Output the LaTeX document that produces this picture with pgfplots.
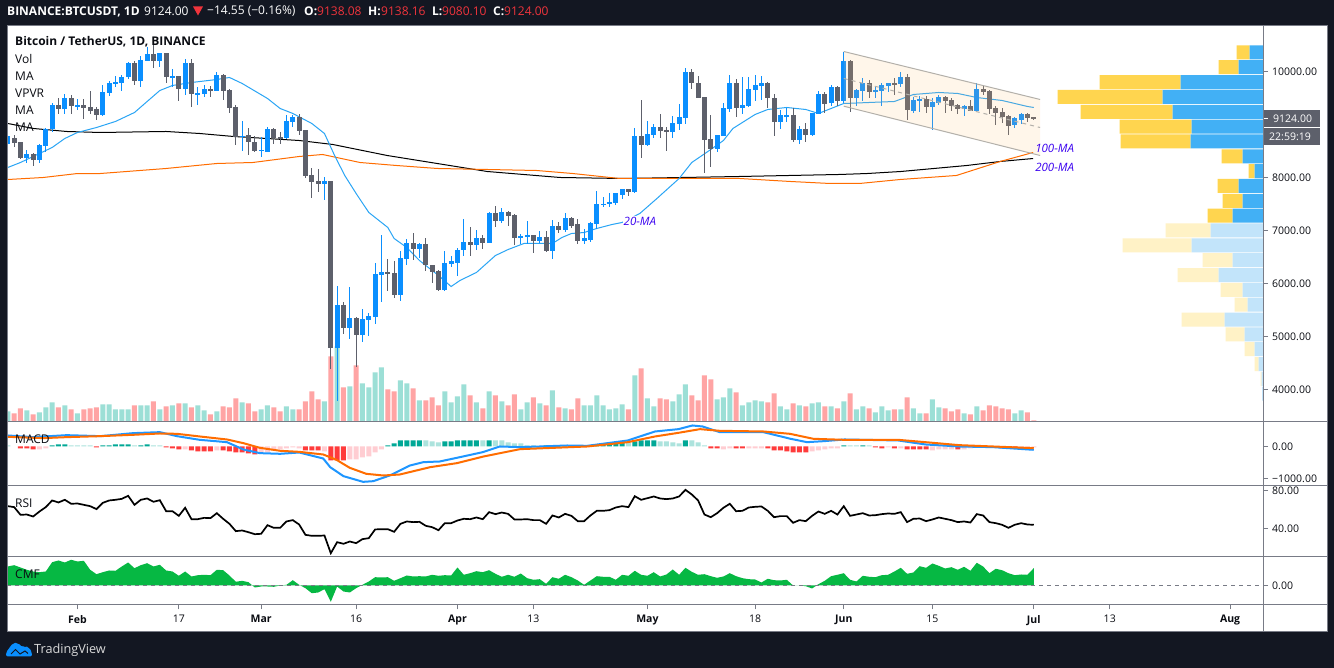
\documentclass[border=0pt]{standalone}
\usepackage{fontspec}
\usepackage{pgfplots}
\usepackage{pgfplotstable}
\pgfplotsset{compat=1.18}
\setmainfont{Open Sans}

\definecolor{cBg}{HTML}{131722}
\definecolor{cAxis}{HTML}{787B86}
\definecolor{cText}{HTML}{0A0C12}
\definecolor{cUp}{HTML}{0A8FFF}
\definecolor{cDn}{HTML}{5D606B}
\definecolor{cVolUp}{HTML}{9CDFD6}
\definecolor{cVolDn}{HTML}{FFA4A4}
\definecolor{cMa}{HTML}{2AA5F5}
\definecolor{cOr}{HTML}{FF6D00}
\definecolor{cMacd}{HTML}{1E96FF}
\definecolor{cTeal}{HTML}{00A896}
\definecolor{cLtTeal}{HTML}{ACE3DD}
\definecolor{cRed}{HTML}{FF3B3B}
\definecolor{cPink}{HTML}{FFCDD2}
\definecolor{cCmf}{HTML}{06B843}
\definecolor{cYel}{HTML}{FFD54F}
\definecolor{cBlu}{HTML}{42B0F5}
\definecolor{cYelL}{HTML}{FFF2C6}
\definecolor{cBluL}{HTML}{C2E4FA}
\definecolor{cLabel}{HTML}{3A00F0}
\definecolor{cChan}{HTML}{FFC373}
\definecolor{cChanLine}{HTML}{B3B0AA}
\definecolor{cRedTxt}{HTML}{F0343C}

% day number (1 = 1 Jan 2020), open, high, low, close
\pgfplotstableread{
d o h l c
21 8623 8792 8604 8774
24 8377 8528 8264 8434
26 8321 8623 8264 8604
27 8585 8943 8472 8906
28 8906 9396 8849 9377
30 9283 9566 9189 9509
32 9321 9472 9264 9377
36 9170 9736 9151 9604
37 9585 9830 9547 9774
38 9755 9906 9698 9811
39 9792 9943 9641 9887
40 9887 10170 9849 10151
42 9830 10283 9698 10226
43 10207 10453 10189 10321
45 10207 10358 10094 10340
47 9887 10038 9698 9906
49 9679 10245 9547 10151
51 9566 9698 9377 9585
52 9566 9736 9528 9679
54 9623 9981 9623 9925
58 8755 9075 8509 8792
61 8509 8755 8396 8528
62 8490 8962 8472 8906
65 8736 9170 8717 9057
66 9038 9170 8962 9132
71 7868 8000 7566 7925
73 4792 5962 3774 5585
75 5151 5943 4962 5358
77 5019 5528 4905 5321
78 5302 5434 5000 5396
79 5377 6396 5245 6170
80 6151 6906 5660 6208
83 5792 6604 5679 6472
84 6453 6830 6358 6755
86 6660 6773 6490 6736
90 5868 6604 5849 6396
91 6377 6528 6302 6415
92 6396 6679 6132 6641
93 6623 7208 6528 6792
95 6717 7000 6641 6849
97 6755 7358 6755 7321
99 7170 7415 7132 7358
102 6849 6943 6736 6887
103 6868 7170 6736 6906
105 6811 6981 6755 6868
107 6604 7189 6453 7094
109 7000 7321 6981 7245
112 6811 7019 6736 6849
113 6830 7151 6792 7132
114 7113 7736 7019 7491
115 7472 7623 7434 7509
116 7491 7698 7434 7547
117 7528 7698 7472 7698
118 7679 7792 7585 7774
120 7717 8943 7698 8774
122 8604 9057 8585 8830
123 8811 9000 8736 8962
126 8849 9151 8736 9019
127 9000 9396 8887 9132
128 9113 10057 9000 9981
133 8547 8811 8490 8811
134 8792 9396 8774 9302
135 9283 9943 9245 9792
137 9302 9887 9189 9377
138 9358 9887 9321 9679
139 9660 9943 9434 9736
140 9717 9906 9453 9774
143 9038 9264 8906 9170
144 9151 9302 9038 9170
146 8698 8981 8623 8906
148 8811 9226 8792 9208
149 9189 9623 9189 9566
151 9396 9736 9340 9698
153 9434 10377 9396 10189
155 9491 9679 9340 9660
156 9641 9868 9434 9792
158 9604 9717 9491 9660
159 9641 9774 9358 9736
160 9717 9792 9604 9774
162 9755 9981 9698 9887
164 9264 9528 9208 9453
165 9434 9547 9245 9472
167 9321 9491 8887 9415
168 9396 9547 9377 9528
172 9283 9377 9151 9358
174 9264 9774 9264 9679
180 8981 9132 8925 9113
181 9094 9226 9000 9189
}\candlesUp

\pgfplotstableread{
d o h l c
22 8736 8811 8566 8660
23 8679 8679 8358 8377
25 8434 8453 8226 8321
29 9377 9491 9189 9283
31 9509 9547 9189 9340
33 9377 9472 9113 9302
34 9321 9623 9189 9264
35 9283 9321 9094 9170
41 10151 10189 9736 9830
44 10321 10491 10057 10207
46 10340 10340 9774 9887
48 9906 9906 9434 9679
50 10151 10245 9321 9566
53 9679 9717 9528 9623
55 9925 9962 9453 9641
56 9660 9679 9226 9302
57 9321 9377 8604 8755
59 8811 8925 8415 8679
60 8679 8792 8490 8509
63 8906 8925 8623 8736
64 8755 8849 8641 8736
67 9132 9189 8811 8868
68 8887 8887 7981 8019
69 8038 8170 7604 7906
70 7925 8151 7717 7868
72 7925 7925 4396 4792
74 5585 5642 5038 5151
76 5358 5377 4415 5019
81 6208 6453 5849 6170
82 6189 6415 5717 5792
85 6755 6962 6434 6660
87 6736 6849 6245 6340
88 6358 6358 6000 6226
89 6245 6264 5849 5868
94 6792 7057 6528 6717
96 6849 6906 6660 6755
98 7321 7453 7057 7170
100 7358 7377 7094 7264
101 7283 7302 6717 6849
104 6906 6906 6566 6811
106 6868 6981 6585 6604
108 7094 7151 6962 7000
110 7245 7264 7038 7094
111 7113 7226 6736 6811
119 7774 7774 7642 7717
121 8774 9453 8377 8604
124 8962 9189 8736 8868
125 8887 8962 8509 8849
129 9981 10038 9679 9774
130 9792 9906 9491 9509
131 9528 9528 8094 8698
132 8717 9170 8189 8547
136 9792 9849 9132 9302
141 9774 9811 9302 9491
142 9509 9566 8792 9038
145 9170 9302 8679 8698
147 8906 9019 8679 8811
150 9566 9604 9226 9396
152 9698 9717 9358 9434
154 10189 10226 9245 9491
157 9792 9830 9509 9604
161 9774 9868 9547 9755
163 9887 9962 9094 9264
166 9472 9547 9226 9321
169 9528 9547 9208 9434
170 9453 9491 9264 9358
171 9377 9396 9189 9283
173 9358 9453 9264 9264
175 9679 9717 9547 9604
176 9623 9660 9189 9283
177 9302 9340 8981 9226
178 9245 9302 9019 9132
179 9151 9170 8811 8981
182 9189 9208 9038 9113
183 9138 9138 9080 9124
}\candlesDn

\pgfplotstableread{
d v
21 10
24 11
26 9
27 14
28 19
30 16
32 8
36 17
37 17
38 12
39 12
40 12
42 16
43 16
45 12
47 16
49 18
51 16
52 11
54 10
58 19
61 12
62 16
65 15
66 12
71 20
73 75
75 35
77 38
78 34
79 49
80 54
83 41
84 38
86 21
90 30
91 19
92 25
93 37
95 19
97 30
99 20
102 12
103 19
105 18
107 31
109 13
112 16
113 16
114 26
115 16
116 12
117 13
118 17
120 46
122 23
123 15
126 20
127 27
128 37
133 22
134 24
135 33
137 16
138 19
139 21
140 20
143 15
144 12
146 16
148 18
149 19
151 15
153 20
155 12
156 15
158 9
159 15
160 11
162 12
164 13
165 8
167 22
168 14
172 8
174 15
180 8
181 11
}\volUp

\pgfplotstableread{
d v
22 8
23 13
25 7
29 14
31 12
33 12
34 13
35 14
41 16
44 20
46 15
48 18
50 14
53 7
55 15
56 14
57 23
59 18
60 10
63 14
64 10
67 12
68 20
69 30
70 22
72 65
74 34
76 56
81 32
82 30
85 33
87 21
88 24
89 16
94 26
96 13
98 26
100 16
101 27
104 24
106 16
108 14
110 12
111 23
119 12
121 53
124 23
125 22
129 26
130 21
131 46
132 42
136 29
141 19
142 28
145 18
147 15
150 15
152 13
154 28
157 13
161 12
163 24
166 8
169 13
170 10
171 12
173 7
175 11
176 16
177 15
178 13
179 12
182 9
183 1
}\volDn

% volume profile: price, blue and yellow part of the strong and the faded rows
\pgfplotstableread{
p bs ys bl yl
10360 13.3 13 0 0
10080 24.3 20 0 0
9800 82.3 81 0 0
9520 100.3 105 0 0
9240 90.3 92 0 0
8960 71.3 72 0 0
8680 72.3 70 0 0
8400 20.3 21 0 0
8120 8.3 6 0 0
7840 24.3 21 0 0
7560 20.3 20 0 0
7280 30.3 25 0 0
7000 0 0 52.3 45
6720 0 0 71.3 69
6440 0 0 30.3 30
6160 0 0 44.3 41
5880 0 0 20.3 22
5600 0 0 15.3 13
5320 0 0 38.3 43
5040 0 0 18.3 19
4760 0 0 8.3 10
4480 0 0 4.3 4
4200 0 0 1.3 1
3920 0 0 1 0
}\vpvr

\pgfplotstableread{
d v
21 63.5
22 62.5
23 54.4
24 54.7
25 52.6
26 57.9
27 62.5
28 69.5
29 67.4
30 70.2
31 66
32 66.3
33 64.9
34 63.5
35 60.4
36 67
37 69.5
38 70.2
39 71.2
40 74.4
41 64.9
42 70.2
43 71.6
44 68.1
45 69.8
46 58.2
47 58.2
48 53.3
49 61.8
50 49.8
51 49.8
52 51.2
53 50.9
54 56.1
55 50.2
56 44.9
57 37.2
58 37.9
59 36.1
60 34
61 34.4
62 43.5
63 40.7
64 40.7
65 47.4
66 48.8
67 44.2
68 33.3
69 32.3
70 32.3
71 32.6
72 14
73 25.6
74 23.9
75 26.3
76 24.6
77 28.8
78 29.8
79 39
80 39.3
81 39.3
82 36.5
83 44.9
84 47.4
85 46.7
86 47
87 42.8
88 41.4
89 38.2
90 45.6
91 45.6
92 48.4
93 50.2
94 49.8
95 51.6
96 49.8
97 57.2
98 55.1
99 56.8
100 55.4
101 49.5
102 49.5
103 49.8
104 48.8
105 48.8
106 44.9
107 53.7
108 51.6
109 55.4
110 53.3
111 47.7
112 47.7
113 53.7
114 58.6
115 58.6
116 59.3
117 62.1
118 63.5
119 62.5
120 74
121 70.2
122 71.9
123 73.7
124 71.6
125 70.9
126 71.6
127 73.7
128 80.7
129 75.8
130 69.5
131 54.7
132 51.9
133 56.1
134 61.8
135 66
136 58.2
137 58.6
138 62.1
139 62.8
140 63.2
141 58.6
142 51.9
143 53
144 53
145 46
146 48.8
147 47.7
148 53.3
149 57.9
150 55.4
151 58.6
152 54.7
153 63.5
154 53.3
155 54.7
156 56.1
157 53.7
158 54
159 55.1
160 55.8
161 55.4
162 57.2
163 46.7
164 50.2
165 50.5
166 47.7
167 49.5
168 51.6
169 50.2
170 48.8
171 46.7
172 47.4
173 46.3
174 55.1
175 53.7
176 46.7
177 45.6
178 43.9
179 40.7
180 43.9
181 45.6
182 44.2
183 43.9
}\rsi

\pgfplotstableread{
d v
21 .19
22 .203
23 .18
24 .157
25 .14
26 .133
27 .14
28 .233
29 .25
30 .23
31 .257
32 .24
33 .247
34 .157
35 .113
36 .133
37 .15
38 .147
39 .19
40 .23
41 .173
42 .203
43 .223
44 .19
45 .207
46 .15
47 .14
48 .097
49 .14
50 .09
51 .103
52 .107
53 .103
54 .157
55 .153
56 .1
57 .037
58 .047
59 .033
60 -.02
61 -.01
62 -.01
63 -.013
64 0
65 .007
66 .053
67 .007
68 -.027
69 -.077
70 -.07
71 -.037
72 -.163
73 -.01
74 -.06
75 -.07
76 -.027
77 .007
78 .04
79 .083
80 .08
81 .083
82 .047
83 .073
84 .1
85 .09
86 .093
87 .09
88 .107
89 .097
90 .103
91 .1
92 .18
93 .107
94 .123
95 .143
96 .133
97 .153
98 .117
99 .087
100 .107
101 .087
102 .12
103 .073
104 .057
105 .063
106 .017
107 .083
108 .067
109 .107
110 .083
111 .05
112 .007
113 .05
114 .093
115 .087
116 .087
117 .057
118 .107
119 .097
120 .147
121 .107
122 .097
123 .133
124 .09
125 .11
126 .16
127 .107
128 .177
129 .137
130 .107
131 .113
132 .093
133 .077
134 .09
135 .123
136 .093
137 .073
138 .063
139 .06
140 .03
141 .067
142 .053
143 .05
144 .057
145 0
146 0
147 -.007
148 -.03
149 .013
150 .047
151 .093
152 .107
153 .123
154 .057
155 .04
156 .097
157 .087
158 .083
159 .103
160 .107
161 .14
162 .177
163 .117
164 .13
165 .193
166 .177
167 .22
168 .197
169 .17
170 .183
171 .157
172 .187
173 .147
174 .227
175 .19
176 .123
177 .167
178 .153
179 .123
180 .103
181 .11
182 .107
183 .173
}\cmf

\newcommand{\ticksize}{\fontsize{10.5}{12}\selectfont}
\newcommand{\legsize}{\fontsize{12}{14}\selectfont}

\pgfplotsset{
  pane/.style={
    at={(7pt,#1)}, anchor=south west, scale only axis, width=1256pt,
    xmin=20.87, xmax=219.2, enlargelimits=false, clip=true,
    scaled ticks=false,
    axis line style={draw=cAxis,line width=1pt},
    tick style={draw=cAxis,line width=1pt},
    tick align=outside, major tick length=5pt,
    ytick pos=right, yticklabel pos=right, xtick=\empty,
    tick label style={font=\ticksize,text=cText},
    yticklabel style={inner sep=0pt,anchor=west,xshift=4pt},
  },
  wick/.style={draw=none,mark=none,forget plot,
    error bars/.cd,y dir=both,y explicit,error mark=none,
    error bar style={draw=#1,line width=1pt}},
  body/.style={draw=none,mark=none,forget plot,
    error bars/.cd,y dir=both,y explicit,error mark=none,
    error bar style={draw=#1,line width=5pt}},
  hbar/.style={ybar,bar width=5pt,bar shift=0pt,fill=#1,draw=none},
}

\begin{document}
\begin{tikzpicture}
\fill[cBg] (0,0) rectangle (1334pt,668pt);
\fill[white] (7pt,37pt) rectangle (1327pt,643pt);

% volume, behind the candles
\begin{axis}[pane=246.5pt,height=396pt,hide axis,ymin=0,ymax=396]
  \addplot[hbar=cVolUp] table[x=d,y=v] {\volUp};
  \addplot[hbar=cVolDn] table[x=d,y=v] {\volDn};
\end{axis}

% visible range volume profile, growing from the price scale to the left
\begin{axis}[pane=246.5pt,height=396pt,hide axis,xbar stacked,bar width=14pt,
    x dir=reverse,xmin=0,xmax=1256,ymin=3396.2,ymax=10867.9]
  \addplot[fill=cBlu,draw=none] table[x=bs,y=p] {\vpvr};
  \addplot[fill=cYel,draw=none] table[x=ys,y=p] {\vpvr};
  \addplot[fill=cBluL,draw=none] table[x=bl,y=p] {\vpvr};
  \addplot[fill=cYelL,draw=none] table[x=yl,y=p] {\vpvr};
\end{axis}

% price pane; the 9000 tick has no label, the last price box sits on it
\begin{axis}[pane=246.5pt,height=396pt,ymin=3396.2,ymax=10867.9,
    ytick={4000,5000,6000,7000,8000,10000},
    yticklabels={4000.00,5000.00,6000.00,7000.00,8000.00,10000.00},
    extra y ticks={9000},extra y tick labels={}]
  % moving averages
  \addplot[black,line width=1pt] coordinates {(21,9019)(25,8925)(30.3,8868)(35.6,8849)(46,8868)(51.3,8830)(56.6,8774)(61.9,8736)(67,8698)(72.3,8623)(80.9,8415)(88.8,8264)(96.7,8113)(108.2,8000)(118,7981)(127.6,8000)(136.6,8019)(152.4,8057)(156.7,8075)(162,8113)(172.4,8226)(177.7,8302)(182.9,8358)};
  \addplot[cOr,line width=1pt] coordinates {(21,7962)(26.6,8000)(32,8075)(35.6,8075)(46,8170)(54,8264)(59.7,8283)(67,8396)(70.7,8434)(76.6,8283)(82.4,8226)(88.8,8170)(96.7,8151)(104.5,8132)(110.2,8075)(117.6,7981)(126,7981)(136.6,7981)(144.5,7925)(150.8,7887)(155.5,7887)(161.9,7962)(170.8,8038)(177.7,8302)(182.9,8472)};
  \addplot[cMa,line width=1pt] coordinates {(21,8189)(23,8283)(26,8453)(28,8566)(30,8736)(32,8849)(35,8943)(38,9057)(41,9226)(43,9434)(45,9641)(47,9736)(50,9792)(54,9849)(56,9887)(58,9774)(62,9491)(64,9302)(66,9208)(69,9019)(71,8830)(72.6,8415)(74.2,8038)(76,7698)(78,7340)(81,7057)(82,6849)(84,6679)(86,6434)(89,6151)(91,5943)(92.4,6057)(95,6208)(98,6528)(100,6641)(102.5,6755)(107,6755)(108.5,6868)(110,6943)(112,6962)(114,7038)(116.4,7113)(118,7151)(120.8,7321)(123.5,7604)(127,7981)(129,8283)(132,8528)(134,8698)(135.5,8925)(139,9189)(141,9283)(144,9321)(147,9283)(149,9208)(151,9302)(153,9396)(157,9415)(161,9434)(164,9566)(168,9604)(171,9585)(174,9509)(178,9453)(182,9340)(183,9321)};
  % candles
  \addplot[wick=cUp] table[x=d,y expr={(\thisrow{h}+\thisrow{l})/2},y error expr={(\thisrow{h}-\thisrow{l})/2}] {\candlesUp};
  \addplot[wick=cDn] table[x=d,y expr={(\thisrow{h}+\thisrow{l})/2},y error expr={(\thisrow{h}-\thisrow{l})/2}] {\candlesDn};
  \addplot[body=cUp] table[x=d,y expr={(\thisrow{o}+\thisrow{c})/2},y error expr={(\thisrow{c}-\thisrow{o})/2}] {\candlesUp};
  \addplot[body=cDn] table[x=d,y expr={(\thisrow{o}+\thisrow{c})/2},y error expr={(\thisrow{o}-\thisrow{c})/2}] {\candlesDn};
  % parallel channel
  \addplot[fill=cChan,fill opacity=.15,draw=none] coordinates {(153,10377)(184,9472)(184,8415)(153,9345)} -- cycle;
  \addplot[cChanLine,line width=1pt] coordinates {(153,10377)(184,9472)};
  \addplot[cChanLine,line width=1pt] coordinates {(153,9345)(184,8415)};
  \addplot[cChanLine,line width=1pt,dash pattern=on 4pt off 4pt] coordinates {(153,9868)(184,8943)};
  \node[fill=white,inner sep=1pt,text=cLabel,font=\fontsize{11.5}{13}\selectfont\itshape] at (axis cs:120.8,7170) {20-MA};
  \node[text=cLabel,inner sep=0pt,font=\fontsize{11.5}{13}\selectfont\itshape] at (axis cs:186.3,8547) {100-MA};
  \node[text=cLabel,inner sep=0pt,font=\fontsize{11.5}{13}\selectfont\itshape] at (axis cs:186.3,8189) {200-MA};
\end{axis}

% MACD
\begin{axis}[pane=182.5pt,height=64pt,ymin=-1219,ymax=781,
    ytick={-1000,0},yticklabels={−1000.00,0.00}]
  \addplot[hbar=cTeal] coordinates {(28,31)(29,63)(30,63)(36,31)(37,31)(38,63)(39,63)(40,63)(42,31)(43,63)(81,31)(82,94)(83,188)(84,188)(85,188)(86,188)(90,156)(91,156)(92,188)(93,188)(94,188)(95,188)(97,188)(106,31)(107,31)(108,31)(109,31)(112,31)(113,31)(114,63)(115,63)(116,94)(117,94)(118,125)(120,156)(121,188)(122,188)(123,188)(128,188)(153,31)(156,31)};
  \addplot[hbar=cLtTeal] coordinates {(21,31)(31,31)(32,31)(33,31)(34,31)(41,31)(44,31)(45,31)(87,188)(88,156)(89,125)(96,188)(98,188)(99,188)(100,125)(101,94)(102,94)(103,31)(104,31)(110,31)(111,31)(119,125)(124,156)(125,156)(126,125)(127,94)(129,188)(130,125)(131,31)(154,31)(155,31)(157,31)};
  \addplot[hbar=cRed] coordinates {(23,-63)(24,-63)(25,-94)(35,-31)(46,-31)(47,-63)(48,-94)(50,-125)(51,-156)(52,-156)(53,-156)(55,-125)(56,-156)(57,-188)(58,-188)(59,-219)(60,-250)(68,-125)(69,-125)(70,-125)(72,-438)(73,-438)(74,-438)(105,-31)(132,-63)(133,-63)(136,-63)(137,-63)(141,-63)(142,-125)(143,-125)(144,-156)(145,-188)(146,-188)(147,-188)(158,-31)(159,-63)(161,-63)(163,-94)(164,-94)(165,-94)(166,-94)(171,-94)(176,-31)(177,-31)(178,-63)(179,-31)(180,-31)};
  \addplot[hbar=cPink] coordinates {(26,-94)(27,-63)(49,-94)(54,-125)(61,-188)(62,-188)(63,-125)(64,-94)(65,-63)(66,-31)(67,-63)(71,-156)(75,-406)(76,-406)(77,-344)(78,-313)(79,-188)(80,-94)(134,-94)(135,-63)(138,-63)(139,-63)(140,-63)(148,-156)(149,-125)(150,-94)(151,-63)(152,-63)(160,-31)(162,-63)(167,-125)(168,-94)(169,-94)(170,-94)(172,-94)(173,-63)(174,-31)(175,-31)(181,-31)(182,-31)(183,-31)};
  \addplot[cMacd,line width=2pt] coordinates {(21,344)(25,292)(30.3,354)(35.6,323)(40.8,417)(45,448)(47.7,323)(51.3,208)(55.6,135)(58.2,-94)(60.8,-208)(64,-229)(67,-188)(70.8,-375)(71.9,-646)(74,-927)(77.1,-1105)(78.7,-1084)(81.3,-907)(84.5,-594)(86.6,-490)(89.2,-469)(92.4,-333)(96,-177)(98.7,0)(101.9,-20)(105,0)(109.3,31)(112.5,21)(118.9,188)(123.2,469)(126.9,542)(129.1,656)(130.7,625)(133.4,448)(136,448)(140.3,448)(144.6,240)(147.2,135)(149.9,167)(153.1,219)(161.6,188)(165.9,63)(171.2,0)(176.6,-21)(183,-104)};
  \addplot[cOr,line width=2pt] coordinates {(21,302)(26.6,261)(30.3,292)(35.6,323)(40.8,365)(45,406)(47.7,396)(51.3,313)(55.6,219)(58.2,104)(60.8,-42)(64,-135)(67,-167)(70.8,-250)(72.9,-417)(75,-667)(77.6,-854)(80.3,-907)(82.9,-875)(87.7,-646)(91.9,-521)(96.1,-313)(101.9,-83)(107.2,-42)(112.5,0)(118.9,135)(123.2,313)(126.9,427)(130.3,542)(133.4,490)(140.3,469)(144.5,396)(148.2,240)(153.1,208)(161.6,208)(165.9,135)(171.2,42)(176.6,0)(183,-52)};
  \node[anchor=west,inner sep=0pt,font=\legsize,text=cText] at (rel axis cs:0.0064,0.72) {MACD};
\end{axis}

% RSI
\begin{axis}[pane=111.5pt,height=71pt,ymin=10.53,ymax=85.26,
    ytick={40,80},yticklabels={40.00,80.00}]
  \addplot[black,line width=1.7pt] table[x=d,y=v] {\rsi};
  \node[anchor=west,inner sep=0pt,font=\legsize,text=cText] at (rel axis cs:0.0064,0.75) {RSI};
\end{axis}

% CMF and the date scale
\begin{axis}[pane=63.5pt,height=48pt,ymin=-.19,ymax=.29,
    ytick={0},yticklabels={0.00},
    xtick={32,48,61,76,92,104,122,139,153,167,183,195,214},
    xticklabels={\textbf{Feb},17,\textbf{Mar},16,\textbf{Apr},13,\textbf{May},18,\textbf{Jun},15,\textbf{Jul},13,\textbf{Aug}},
    xtick pos=bottom,xticklabel style={inner sep=0pt,yshift=-5.5pt}]
  \addplot[fill=cCmf,draw=none] table[x=d,y=v] {\cmf} \closedcycle;
  \addplot[cAxis,line width=1pt,dash pattern=on 4pt off 4pt] coordinates {(20.87,0)(219.2,0)};
  \node[anchor=west,inner sep=0pt,font=\legsize,text=cText] at (rel axis cs:0.0064,0.64) {CMF};
\end{axis}

% frame, separators, labels and logo, in the picture's own pixel coordinates
\begin{scope}[x=1pt,y=-1pt,yshift=667.5pt]
  \draw[cAxis,line width=1pt] (7,25) rectangle (1327,631);
  \foreach \yy in {421,485,556,604} \draw[cAxis,line width=1pt] (7,\yy) -- (1327,\yy);
  \draw[cAxis,line width=1pt] (1263,25) -- (1263,631);
  \fill[cDn] (1264,110) rectangle (1320,127);
  \fill[cDn] (1264,128) rectangle (1320,145);
  \draw[white,line width=1pt] (1264,118) -- (1268,118);
  \node[anchor=west,inner sep=0pt,text=white,font=\ticksize] at (1273,118.5) {9124.00};
  \node[anchor=west,inner sep=0pt,text=white,font=\ticksize] at (1269,136.5) {22:59:19};
  \foreach \yy/\tt in {41.5/{\textbf{Bitcoin / TetherUS, 1D, BINANCE}},58.5/Vol,75.5/MA,92.5/VPVR,109.5/MA,126.5/MA}
    \node[anchor=west,inner sep=0pt,text=cText,font=\legsize] at (15,\yy) {\tt};
  % header
  \node[anchor=west,inner sep=0pt,text=white,font=\fontsize{12}{14}\selectfont\bfseries] at (7,11) {BINANCE:BTCUSDT, 1D};
  \node[anchor=west,inner sep=0pt,text=white,font=\fontsize{12}{14}\selectfont] at (144,11) {9124.00};
  \fill[cRedTxt] (193,6) -- (203,6) -- (198,15) -- cycle;
  \node[anchor=west,inner sep=0pt,text=white,font=\fontsize{12}{14}\selectfont] at (207,11) {−14.55 (−0.16\%)};
  \foreach \xa/\xb/\la/\va in {304/317/O/9138.08,368/381/H/9138.16,432/442/L/9080.10,493/504/C/9124.00}{
    \node[anchor=west,inner sep=0pt,text=white,font=\fontsize{12}{14}\selectfont\bfseries] at (\xa,11) {\la:};
    \node[anchor=west,inner sep=0pt,text=cRedTxt,font=\fontsize{12}{14}\selectfont] at (\xb,11) {\va};
  }
  % TradingView logo
  \fill[cUp,rounded corners=2pt] (6,656) -- (6,652) -- (13,642.5) -- (18,642.5) -- (22.5,647) -- (25,645.5) -- (29,647) -- (32,652) -- (32,656) -- cycle;
  \draw[cBg,line width=1pt] (11,653.5) -- (15.5,649) -- (20,653.5) -- (25,650.5) -- (28,653);
  \node[anchor=west,inner sep=0pt,text=white!85!black,font=\fontsize{12.7}{15}\selectfont] at (34,650) {TradingView};
\end{scope}
\end{tikzpicture}
\end{document}
